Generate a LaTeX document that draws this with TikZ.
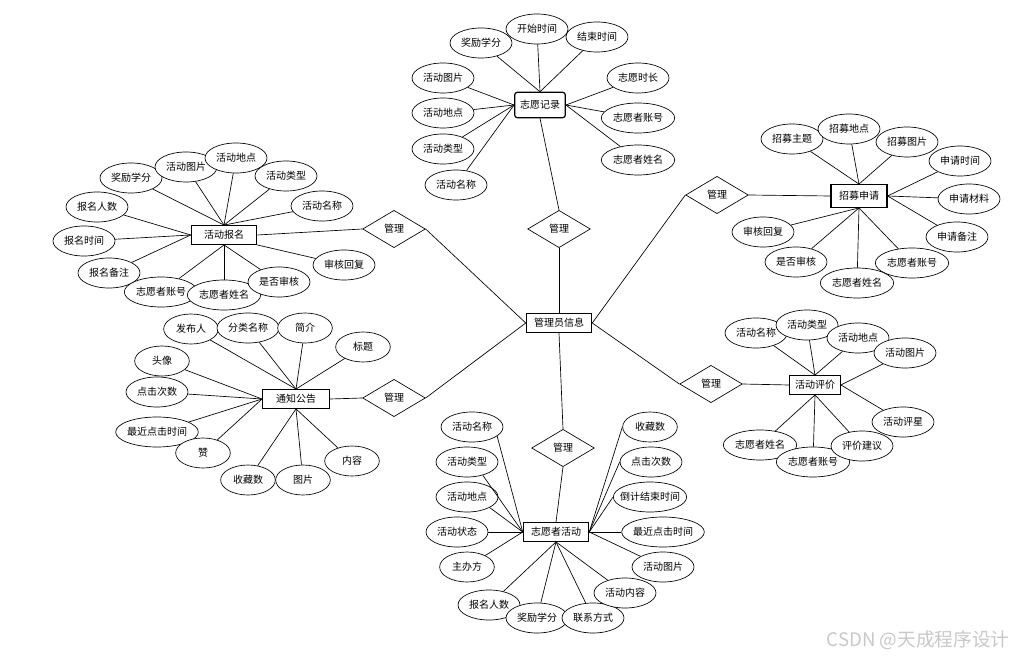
\documentclass[tikz,border=0pt]{standalone}
\usepackage{fontspec}
\setmainfont{Noto Sans CJK SC}
\usepackage{tikz}
\usetikzlibrary{shapes.geometric}
\usepackage{xcolor}
\definecolor{wmgray}{HTML}{C8C8C8}
\newcommand{\zb}[1]{\makebox[0pt]{#1}}

\begin{document}
\begin{tikzpicture}[
 x=0.75pt,y=-0.75pt,
 every node/.style={font=\fontsize{7.5}{9}\selectfont},
 entity/.style={draw,line width=0.9pt,fill=white,rectangle,inner sep=0pt,minimum width=49pt,minimum height=14pt},
 rel/.style={draw,line width=0.5pt,fill=white,diamond,inner sep=0pt,minimum width=47pt,minimum height=28pt},
 attr/.style={draw,line width=0.5pt,fill=white,ellipse,inner sep=0pt,minimum width=46.5pt,minimum height=22.5pt},
 attrs/.style={attr,minimum width=41pt},
 attrw/.style={attr,minimum width=55pt},
 attrww/.style={attr,minimum width=62pt},
 link/.style={line width=0.5pt}
]
\useasboundingbox (0,0) rectangle (1017,659);

\node[entity] (adm) at (559,323) {管理员信息};
\node[rel] (m1) at (559,229) {管理};
\node[rel] (m2) at (394,229) {管理};
\node[rel] (m3) at (394,398) {管理};
\node[rel] (m4) at (563,448) {管理};
\node[rel] (m5) at (717,195) {管理};
\node[rel] (m6) at (711,384) {管理};

\node[entity,rounded corners=2pt,minimum width=38pt,minimum height=19pt] (rec) at (540,105) {志愿记录};
\node[entity] (sign) at (224,235) {活动报名};
\node[entity,minimum width=42pt,minimum height=17pt] (recr) at (859,196) {招募申请};
\node[entity,minimum width=50pt] (note) at (296,399) {通知公告};
\node[entity,minimum width=38pt] (eval) at (815,385) {活动评价};
\node[entity] (act) at (556,532) {志愿者活动};

\draw[link] (m1.north)--(rec.south); \draw[link] (m1.south)--(adm.north);
\draw[link] (m2.west)--(sign.east); \draw[link] (m2.east)--(adm.west);
\draw[link] (m3.west)--(note.east); \draw[link] (m3.east)--(adm.west);
\draw[link] (m4.north)--(adm.south); \draw[link] (m4.south)--(act.north);
\draw[link] (m5.west)--(adm.east); \draw[link] (m5.east)--(recr.west);
\draw[link] (m6.west)--(adm.east); \draw[link] (m6.east)--(eval.west);

% 志愿记录
\node[attr] (rec1) at (481,43) {\zb{奖励学分}};
\node[attr] (rec2) at (537,29) {\zb{开始时间}};
\node[attr] (rec3) at (597,37) {\zb{结束时间}};
\node[attr] (rec4) at (443,78) {\zb{活动图片}};
\node[attr] (rec5) at (443,113) {\zb{活动地点}};
\node[attr] (rec6) at (443,149) {\zb{活动类型}};
\node[attr] (rec7) at (456,185) {\zb{活动名称}};
\node[attr] (rec8) at (638,78) {\zb{志愿时长}};
\node[attrw] (rec9) at (638,118) {\zb{志愿者账号}};
\node[attrw] (rec10) at (638,160) {\zb{志愿者姓名}};
\draw[link] (rec.north)--(rec1); \draw[link] (rec.north)--(rec2); \draw[link] (rec.north)--(rec3);
\draw[link] (rec.west)--(rec4); \draw[link] (rec.west)--(rec5); \draw[link] (rec.west)--(rec6); \draw[link] (rec.west)--(rec7);
\draw[link] (rec.east)--(rec8); \draw[link] (rec.east)--(rec9); \draw[link] (rec.east)--(rec10);

% 活动报名
\node[attr] (sign1) at (131,178) {\zb{奖励学分}};
\node[attr] (sign2) at (186,167) {\zb{活动图片}};
\node[attr] (sign4) at (286,176) {\zb{活动类型}};
\node[attr] (sign3) at (236,158) {\zb{活动地点}};
\node[attr] (sign5) at (322,206) {\zb{活动名称}};
\node[attr] (sign6) at (97,207) {\zb{报名人数}};
\node[attr] (sign7) at (84,241) {\zb{报名时间}};
\node[attr] (sign8) at (109,273) {\zb{报名备注}};
\node[attrw] (sign9) at (161,292) {\zb{志愿者账号}};
\node[attrw] (sign10) at (224,295) {\zb{志愿者姓名}};
\node[attr] (sign11) at (279,282) {\zb{是否审核}};
\node[attr] (sign12) at (344,265) {\zb{审核回复}};
\draw[link] (sign.north)--(sign1); \draw[link] (sign.north)--(sign2); \draw[link] (sign.north)--(sign3);
\draw[link] (sign.north)--(sign4); \draw[link] (sign.north)--(sign5);
\draw[link] (sign.west)--(sign6); \draw[link] (sign.west)--(sign7); \draw[link] (sign.west)--(sign8);
\draw[link] (sign.south)--(sign9); \draw[link] (sign.south)--(sign10); \draw[link] (sign.south)--(sign11);
\draw[link] (sign.south east)--(sign12);

% 招募申请
\node[attr] (recr1) at (792,139) {\zb{招募主题}};
\node[attr] (recr3) at (907,142) {\zb{招募图片}};
\node[attr] (recr2) at (849,129) {\zb{招募地点}};
\node[attr] (recr4) at (960,161) {\zb{申请时间}};
\node[attr] (recr5) at (969,199) {\zb{申请材料}};
\node[attr] (recr6) at (957,237) {\zb{申请备注}};
\node[attrw] (recr7) at (912,263) {\zb{志愿者账号}};
\node[attrw] (recr8) at (857,283) {\zb{志愿者姓名}};
\node[attr] (recr9) at (796,262) {\zb{是否审核}};
\node[attr] (recr10) at (763,232) {\zb{审核回复}};
\draw[link] (recr.north)--(recr1); \draw[link] (recr.north)--(recr2); \draw[link] (recr.north)--(recr3);
\draw[link] (recr.east)--(recr4); \draw[link] (recr.east)--(recr5); \draw[link] (recr.east)--(recr6);
\draw[link] (recr.south)--(recr7); \draw[link] (recr.south)--(recr8);
\draw[link] (recr.south)--(recr9); \draw[link] (recr.south)--(recr10);

% 通知公告
\node[attrs] (note1) at (191,329) {\zb{发布人}};
\node[attr] (note2) at (248,328) {\zb{分类名称}};
\node[attrs] (note3) at (305,328) {\zb{简介}};
\node[attrs] (note4) at (363,347) {\zb{标题}};
\node[attrs] (note5) at (162,361) {\zb{头像}};
\node[attr] (note6) at (157,392) {\zb{点击次数}};
\node[attrww] (note7) at (157,432) {\zb{最近点击时间}};
\node[attrs] (note8) at (203,453) {\zb{赞}};
\node[attrs] (note9) at (248,480) {\zb{收藏数}};
\node[attrs] (note10) at (303,480) {\zb{图片}};
\node[attrs] (note11) at (352,461) {\zb{内容}};
\draw[link] (note.north)--(note1); \draw[link] (note.north)--(note2);
\draw[link] (note.north)--(note3); \draw[link] (note.north)--(note4);
\draw[link] (note.west)--(note5); \draw[link] (note.west)--(note6);
\draw[link] (note.west)--(note7); \draw[link] (note.west)--(note8);
\draw[link] (note.south)--(note9); \draw[link] (note.south)--(note10); \draw[link] (note.south)--(note11);

% 活动评价
\node[attr] (eval1) at (756,333) {\zb{活动名称}};
\node[attr] (eval2) at (807,325) {\zb{活动类型}};
\node[attr] (eval3) at (858,338) {\zb{活动地点}};
\node[attr] (eval4) at (905,353) {\zb{活动图片}};
\node[attr] (eval5) at (903,422) {\zb{活动评星}};
\node[attrw] (eval8) at (760,445) {\zb{志愿者姓名}};
\node[attrw] (eval7) at (813,462) {\zb{志愿者账号}};
\node[attr] (eval6) at (862,446) {\zb{评价建议}};
\draw[link] (eval.north)--(eval1); \draw[link] (eval.north)--(eval2); \draw[link] (eval.north)--(eval3);
\draw[link] (eval.east)--(eval4); \draw[link] (eval.east)--(eval5);
\draw[link] (eval.south)--(eval6); \draw[link] (eval.south)--(eval7); \draw[link] (eval.south)--(eval8);

% 志愿者活动
\node[attr] (act1) at (472,427) {\zb{活动名称}};
\node[attr] (act2) at (467,462) {\zb{活动类型}};
\node[attr] (act3) at (467,497) {\zb{活动地点}};
\node[attr] (act4) at (457,532) {\zb{活动状态}};
\node[attrs] (act5) at (467,567) {\zb{主办方}};
\node[attr] (act6) at (489,605) {\zb{报名人数}};
\node[attr] (act7) at (537,618) {\zb{奖励学分}};
\node[attr] (act8) at (593,618) {\zb{联系方式}};
\node[attr] (act9) at (625,593) {\zb{活动内容}};
\node[attr] (act10) at (663,567) {\zb{活动图片}};
\node[attrww] (act11) at (663,532) {\zb{最近点击时间}};
\node[attrw] (act12) at (650,497) {\zb{倒计结束时间}};
\node[attr] (act13) at (651,462) {\zb{点击次数}};
\node[attrs] (act14) at (650,427) {\zb{收藏数}};
\draw[link] (act.west)--(act1.-20); \draw[link] (act.west)--(act2.-40); \draw[link] (act.west)--(act3.-25);
\draw[link] (act.west)--(act4); \draw[link] (act.west)--(act5);
\draw[link] (act.south)--(act6); \draw[link] (act.south)--(act7);
\draw[link] (act.south)--(act8); \draw[link] (act.south)--(act9);
\draw[link] (act.east)--(act10); \draw[link] (act.east)--(act11); \draw[link] (act.east)--(act12.west);
\draw[link] (act.east)--(act13.west); \draw[link] (act.east)--(act14.west);

\node[text=wmgray,font=\fontsize{14}{16}\selectfont] (wm) at (918,640) {CSDN @天成程序设计};
\end{tikzpicture}
\end{document}
